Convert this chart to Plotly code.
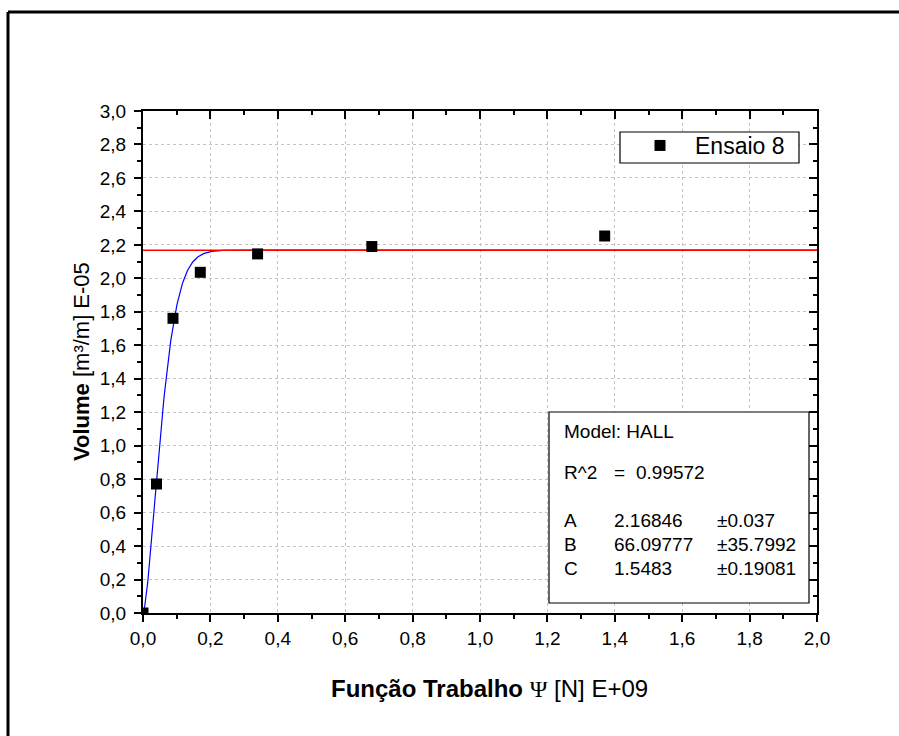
import numpy as np
import plotly.graph_objects as go

# Measured points: work function (E+09 N) vs. volume (E-05 m³/m)
psi = [0.0, 0.040, 0.089, 0.170, 0.340, 0.679, 1.370]
volume = [0.0, 0.771, 1.761, 2.036, 2.146, 2.190, 2.253]
series_name = "Ensaio 8"

# HALL model fit results
model_name = "HALL"
r_squared = 0.99572
param_names = ["A", "B", "C"]
param_values = [2.16846, 66.09777, 1.5483]
param_errors = [0.037, 35.7992, 0.19081]

A, B, C = param_values

# Fitted curve V = A * (1 - exp(-B * psi^C)) sampled over the axis range
x_fit = np.linspace(0.0, 2.0, 1201)
y_fit = A * (1.0 - np.exp(-B * x_fit ** C))

FONT = "Liberation Sans, Arial, sans-serif"

# plot-area pixel box used to place the decorations
PL, PR, PT, PB = 143, 817, 111, 613


def px(x):
    return (x - PL) / (PR - PL)


def py(y):
    return (PB - y) / (PB - PT)


fig = go.Figure()

fig.add_trace(go.Scatter(
    x=x_fit, y=y_fit, mode="lines",
    line=dict(color="#0000ff", width=1.2),
    showlegend=False, hoverinfo="skip",
))
fig.add_trace(go.Scatter(
    x=[0.0, 2.0], y=[A, A], mode="lines",
    line=dict(color="#ff0000", width=1.5),
    showlegend=False, hoverinfo="skip",
))
fig.add_trace(go.Scatter(
    x=psi, y=volume, mode="markers", name=series_name,
    marker=dict(symbol="square", size=11, color="black",
                line=dict(color="black", width=0)),
))
# carrier for the mirrored top/right axes
fig.add_trace(go.Scatter(
    x=[None], y=[None], xaxis="x2", yaxis="y2",
    showlegend=False, hoverinfo="skip",
))

GRID = "#c4c4c4"

fig.update_layout(
    width=899, height=736,
    margin=dict(l=PL, r=899 - PR, t=PT, b=736 - PB),
    paper_bgcolor="white", plot_bgcolor="white",
    separators=",.",
    font=dict(family=FONT, color="black"),
    xaxis=dict(
        range=[0, 2], tick0=0, dtick=0.2, tickformat=".1f",
        showline=True, linecolor="black", linewidth=2, zeroline=False,
        ticks="outside", ticklen=7, tickwidth=1.5, tickcolor="black",
        minor=dict(dtick=0.1, ticks="outside", ticklen=4, tickwidth=1.5,
                   tickcolor="black", showgrid=False),
        showgrid=True, gridcolor=GRID, griddash="dot", gridwidth=1,
        tickfont=dict(size=19, family=FONT),
    ),
    yaxis=dict(
        range=[0, 3], tick0=0, dtick=0.2, tickformat=".1f",
        showline=True, linecolor="black", linewidth=2, zeroline=False,
        ticks="outside", ticklen=7, tickwidth=1.5, tickcolor="black",
        minor=dict(dtick=0.1, ticks="outside", ticklen=4, tickwidth=1.5,
                   tickcolor="black", showgrid=False),
        showgrid=True, gridcolor=GRID, griddash="dot", gridwidth=1,
        tickfont=dict(size=19, family=FONT),
        ticklabelstandoff=4,
    ),
    xaxis2=dict(
        overlaying="x", side="top", anchor="y2",
        range=[0, 2], tick0=0, dtick=0.2,
        showline=True, linecolor="black", linewidth=2, zeroline=False,
        ticks="inside", ticklen=8, tickwidth=1.5, tickcolor="black",
        minor=dict(dtick=0.1, ticks="inside", ticklen=4, tickwidth=1.5,
                   tickcolor="black", showgrid=False),
        showgrid=False, showticklabels=False,
    ),
    yaxis2=dict(
        overlaying="y", side="right", anchor="x2",
        range=[0, 3], tick0=0, dtick=0.2,
        showline=True, linecolor="black", linewidth=2, zeroline=False,
        ticks="inside", ticklen=8, tickwidth=1.5, tickcolor="black",
        minor=dict(dtick=0.1, ticks="inside", ticklen=4, tickwidth=1.5,
                   tickcolor="black", showgrid=False),
        showgrid=False, showticklabels=False,
    ),
    # legend entry sits inside the framed box drawn below
    legend=dict(
        x=px(625), xanchor="left", y=py(124), yanchor="top",
        bgcolor="rgba(0,0,0,0)", borderwidth=0,
        font=dict(size=23, family=FONT), itemwidth=60,
    ),
)

shapes = [
    # outer frame (top and left edges)
    dict(type="line", xref="paper", yref="paper",
         x0=px(8), y0=py(12), x1=px(8), y1=py(736),
         line=dict(color="black", width=3)),
    dict(type="line", xref="paper", yref="paper",
         x0=px(8), y0=py(12), x1=px(899), y1=py(12),
         line=dict(color="black", width=3)),
    # legend frame
    dict(type="rect", xref="paper", yref="paper",
         x0=px(620), y0=py(163), x1=px(799), y1=py(132),
         fillcolor="white", line=dict(color="black", width=1.2),
         layer="above"),
    # fit results box
    dict(type="rect", xref="paper", yref="paper",
         x0=px(549), y0=py(603), x1=px(809), y1=py(412),
         fillcolor="white", line=dict(color="black", width=1.2),
         layer="above"),
]

annotations = []


def label(text, x, y, size=19):
    annotations.append(dict(
        text=text, xref="paper", yref="paper", x=px(x), y=py(y),
        xanchor="left", yanchor="middle", showarrow=False,
        font=dict(size=size, family=FONT, color="black"),
    ))


label(f"Model: {model_name}", 562, 431)
label("R^2", 562, 472)
label("=", 612, 472)
label(f"{r_squared}", 634, 472)
for i, (name, val, err) in enumerate(zip(param_names, param_values, param_errors)):
    yrow = 520 + i * 24
    label(name, 562, yrow)
    label(f"{val}", 612, yrow)
    label(f"±{err}", 715, yrow)

# axis titles
annotations.append(dict(
    text="<b>Volume</b> [m³/m] E-05",
    xref="paper", yref="paper", x=px(81), y=py(362),
    xanchor="center", yanchor="middle", textangle=-90, showarrow=False,
    font=dict(size=22, family=FONT, color="black"),
))
annotations.append(dict(
    text="<b>Função Trabalho</b> <span style=\"font-family:'Liberation Serif'\">Ψ</span> [N] E+09",
    xref="paper", yref="paper", x=px(489), y=py(688),
    xanchor="center", yanchor="middle", showarrow=False,
    font=dict(size=24, family=FONT, color="black"),
))

fig.update_layout(shapes=shapes, annotations=annotations)

fig.write_html("out.html")
